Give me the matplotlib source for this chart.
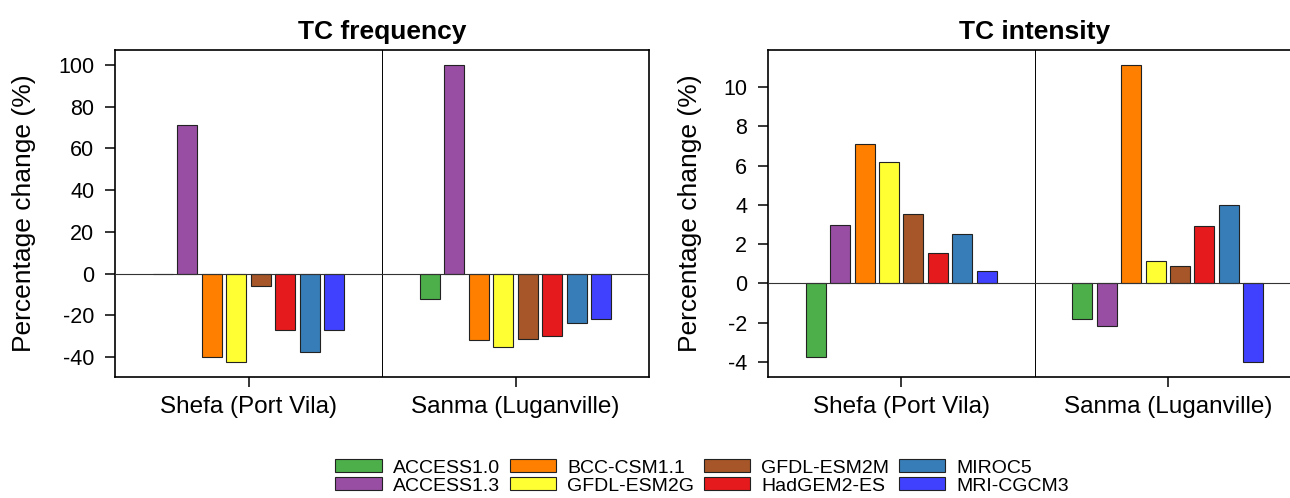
import numpy as np
import matplotlib
matplotlib.use("Agg")
import matplotlib.pyplot as plt
from matplotlib.patches import Patch

plt.rcParams['font.family'] = ['Liberation Sans', 'DejaVu Sans']

# data
models = ["ACCESS1.0", "ACCESS1.3", "BCC-CSM1.1", "GFDL-ESM2G",
          "GFDL-ESM2M", "HadGEM2-ES", "MIROC5", "MRI-CGCM3"]
colors = ["#4DAF4A", "#984EA3", "#FF7F00", "#FFFF33",
          "#A65628", "#E41A1C", "#377EB8", "#4040FF"]
regions = ["Shefa (Port Vila)", "Sanma (Luganville)"]

freq_shefa = [0.0, 71.4, -40.0, -42.2, -5.8, -27.2, -37.4, -27.2]
freq_sanma = [-12.0, 100.0, -31.7, -35.4, -31.4, -29.8, -23.7, -21.6]
int_shefa = [-3.75, 3.0, 7.12, 6.2, 3.54, 1.53, 2.54, 0.63]
int_sanma = [-1.8, -2.15, 11.1, 1.15, 0.9, 2.9, 3.98, -3.98]

freq_ticks = [-40, -20, 0, 20, 40, 60, 80, 100]
int_ticks = [-4, -2, 0, 2, 4, 6, 8, 10]

fig = plt.figure(figsize=(12.9, 4.98), dpi=100)
W, H = 1290, 498

def px_axes(x0, x1, y0, y1):
    return fig.add_axes([x0 / W, 1 - y1 / H, (x1 - x0) / W, (y1 - y0) / H])

ax1 = px_axes(115, 649, 50, 377)
ax2 = px_axes(768, 1301, 50, 377)

group_gap = 10.9
n = len(models)
idx = np.arange(n)


def draw_panel(ax, vals1, vals2, title, ylim, yticks, ylabel_x):
    for g, vals in enumerate([vals1, vals2]):
        ax.bar(idx + g * group_gap, vals, width=0.82, color=colors,
               edgecolor="#222222", linewidth=0.8, zorder=2)
    ax.axhline(0, color="#333333", lw=0.8, zorder=3)
    mid = (n - 1 + group_gap) / 2
    ax.axvline(mid, color="black", lw=0.7, zorder=1)
    ax.set_xlim(-1.95, n - 1 + group_gap + 1.95)
    ax.set_ylim(*ylim)
    ax.set_yticks(yticks)
    ax.set_yticklabels([str(t) for t in yticks], fontsize=15.5)
    ax.set_xticks([(n - 1) / 2, (n - 1) / 2 + group_gap])
    ax.set_xticklabels(regions, fontsize=17.5)
    ax.tick_params(axis="y", length=7, width=1.1, pad=8)
    ax.tick_params(axis="x", length=7, width=1.1, pad=7)
    for s in ax.spines.values():
        s.set_linewidth(1.2)
    ax.set_title(title, fontsize=19, fontweight="bold", pad=8)
    ax.set_ylabel("Percentage change (%)", fontsize=19, va="center")
    ax.yaxis.set_label_coords(ylabel_x, 0.5)


draw_panel(ax1, freq_shefa, freq_sanma, "TC frequency",
           (-49.6, 107.2), freq_ticks, -0.17)
draw_panel(ax2, int_shefa, int_sanma, "TC intensity",
           (-4.76, 11.88), int_ticks, -0.146)

handles = [Patch(facecolor=c, edgecolor="#222222", linewidth=0.8) for c in colors]
fig.legend(handles, models, ncol=4, loc="center",
           bbox_to_anchor=(702 / W, 1 - 477 / H), frameon=False,
           fontsize=14, handlelength=2.4, handleheight=0.65,
           handletextpad=0.55, columnspacing=0.5, labelspacing=0.05,
           borderpad=0)

fig.savefig("out.png", dpi=100)
